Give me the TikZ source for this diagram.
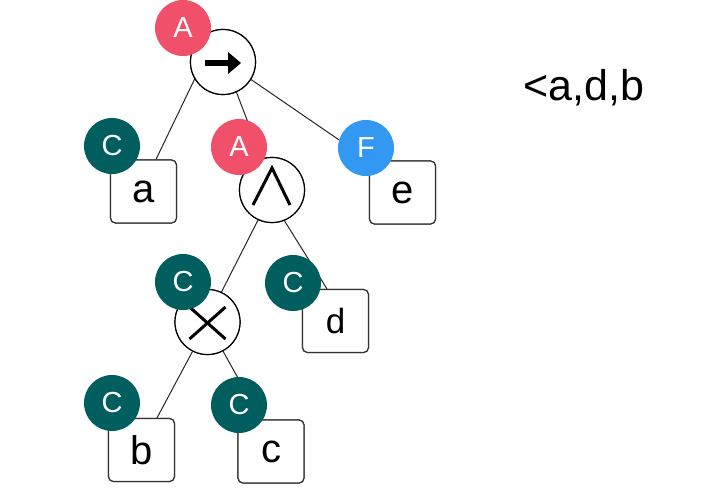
\documentclass[tikz,border=0pt]{standalone}
\usepackage{fontspec}
\setmainfont{Liberation Sans}
\begin{document}
\begin{tikzpicture}[x=1pt,y=-1pt,
  opnode/.style={circle,draw=black,line width=1.2pt,fill=white,minimum size=65pt,inner sep=0pt},
  leaf/.style={rectangle,rounded corners=5pt,draw=black!80,line width=1.2pt,fill=white,minimum width=66pt,minimum height=63pt,inner sep=0pt,font=\fontsize{40}{44}\selectfont},
  badge/.style={circle,minimum size=56pt,inner sep=0pt,text=white,font=\fontsize{29}{32}\selectfont},
  badgeA/.style={badge,fill=badgered},
  badgeC/.style={badge,fill=badgeteal},
  badgeF/.style={badge,fill=badgeblue},
  edge/.style={draw=black!85,line width=1pt},
  sym/.style={line width=3pt,black}]
\definecolor{badgered}{RGB}{240,80,105}
\definecolor{badgeteal}{RGB}{0,94,94}
\definecolor{badgeblue}{RGB}{50,152,242}
\useasboundingbox (0,0) rectangle (727,500);
% nodes (placed first so edges can refer to them)
\node[opnode] (root) at (223,62) {};
\node[opnode] (and) at (272,190) {};
\node[opnode] (times) at (207.5,322) {};
\node[leaf] (a) at (143.5,191.5) {};
\node[leaf] (e) at (402.5,192.5) {};
\node[leaf] (d) at (335.5,321) {};
\node[leaf] (b) at (141.5,450) {};
\node[leaf] (c) at (271,451.5) {};
% edges
\path[edge] (root.211) -- ([xshift=12.5pt]a.north);
\path[edge] (root.294) -- (and.108);
\path[edge] (root.328) -- (e.north west);
\path[edge] (and.245) -- (times.65);
\path[edge] (and.292) -- ([xshift=-8.5pt]d.north);
\path[edge] (times.243) -- ([xshift=15.5pt]b.north);
\path[edge] (times.298) -- ([xshift=-10pt]c.north);
% redraw nodes on top of edges
\node[opnode] at (root) {};
\node[opnode] at (and) {};
\node[opnode] at (times) {};
\node[leaf] at (a) {a};
\node[leaf] at (e) {e};
\node[leaf,font=\fontsize{35}{40}\selectfont] at (d) {d};
\node[leaf] at (b) {b};
\node[leaf] at (c) {c};
% symbols
\begin{scope}[shift={(root.center)}]
  \draw[line width=6pt,black] (-18,1) -- (6,1);
  \fill[black] (5,-10) -- (18,1) -- (5,12) -- cycle;
\end{scope}
\begin{scope}[shift={(and.center)}]
  \draw[sym,line join=miter] (-19,15) -- (0,-22) -- (18,15);
\end{scope}
\begin{scope}[shift={(times.center)}]
  \draw[sym] (-18,-15) -- (18,17);
  \draw[sym] (-18,17) -- (18,-15);
\end{scope}
% badges
\node[badgeA] (bA1) at (183,28) {A};
\node[badgeC] (bCa) at (112,146) {C};
\node[badgeA] (bA2) at (239,147) {A};
\node[badgeF] (bF) at (366,148) {F};
\node[badgeC] (bCt) at (183,282) {C};
\node[badgeC] (bCd) at (293,283) {C};
\node[badgeC] (bCb) at (112,403) {C};
\node[badgeC] (bCc) at (239,405) {C};
% label
\node[font=\fontsize{43}{48}\selectfont] (seq) at (584,88) {<a,d,b};
\end{tikzpicture}
\end{document}
